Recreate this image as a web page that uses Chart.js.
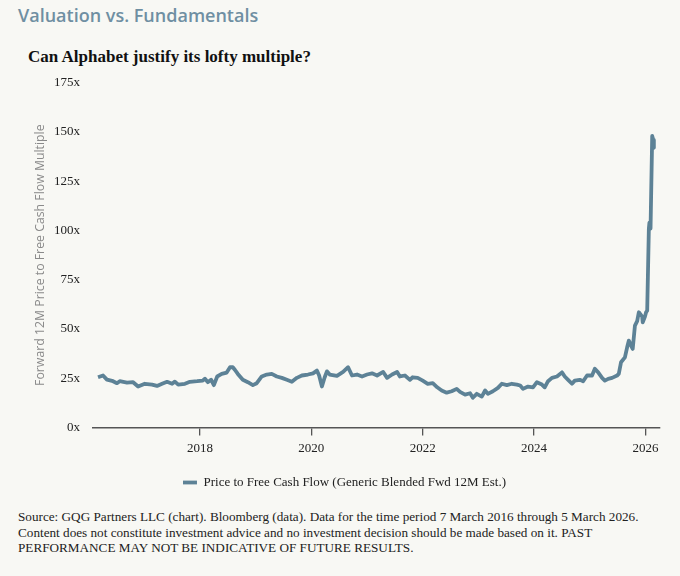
<!DOCTYPE html>
<html>
<head>
<meta charset="utf-8">
<script src="https://cdn.jsdelivr.net/npm/chart.js@4.4.1/dist/chart.umd.min.js"></script>
<style>
  html, body { margin: 0; padding: 0; background: #f8f8f4; }
  body { width: 680px; height: 576px; position: relative; overflow: hidden; }
  #title {
    position: absolute; left: 18px; top: 3px;
    font-family: "Open Sans", sans-serif; font-weight: 600; font-size: 18px;
    color: #6f8fa2; line-height: 24px;
  }
  #subtitle {
    position: absolute; left: 28px; top: 46px;
    font-family: "Liberation Serif", serif; font-weight: bold; font-size: 17px;
    color: #111; line-height: 22px;
  }
  #wrap { position: absolute; left: 0; top: 70px; width: 680px; height: 429px; }
  #footer {
    position: absolute; left: 18px; top: 509px;
    font-family: "Liberation Serif", serif; font-size: 13.2px;
    color: #222; line-height: 15.5px;
  }
</style>
</head>
<body>
<div id="title">Valuation vs. Fundamentals</div>
<div id="subtitle">Can Alphabet justify its lofty multiple?</div>
<div id="wrap"><canvas id="chart"></canvas></div>
<div id="footer">Source: GQG Partners LLC (chart). Bloomberg (data). Data for the time period 7 March 2016 through 5 March 2026.<br>Content does not constitute investment advice and no investment decision should be made based on it. PAST<br>PERFORMANCE MAY NOT BE INDICATIVE OF FUTURE RESULTS.</div>
<script>
// decimal year of each reading
const years = [
  2016.17, 2016.26, 2016.33, 2016.44, 2016.51, 2016.56, 2016.69, 2016.80, 2016.89,
  2017.01, 2017.14, 2017.23, 2017.32, 2017.41, 2017.50, 2017.55, 2017.61, 2017.73, 2017.82, 2017.95,
  2018.05, 2018.09, 2018.14, 2018.20, 2018.25, 2018.31, 2018.39, 2018.48, 2018.54, 2018.59, 2018.63,
  2018.68, 2018.77, 2018.86, 2018.95,
  2019.02, 2019.11, 2019.20, 2019.29, 2019.38, 2019.47, 2019.56, 2019.65, 2019.74, 2019.83, 2019.94,
  2020.03, 2020.10, 2020.14, 2020.19, 2020.24, 2020.28, 2020.33, 2020.46, 2020.57, 2020.66, 2020.73,
  2020.82, 2020.91,
  2021.00, 2021.09, 2021.18, 2021.29, 2021.36, 2021.45, 2021.54, 2021.59, 2021.68, 2021.77, 2021.82, 2021.91,
  2022.00, 2022.09, 2022.18, 2022.26, 2022.34, 2022.43, 2022.52, 2022.61, 2022.67, 2022.76, 2022.85,
  2022.90, 2022.97,
  2023.06, 2023.12, 2023.17, 2023.26, 2023.35, 2023.42, 2023.51, 2023.60, 2023.69, 2023.75, 2023.80,
  2023.89, 2023.98,
  2024.05, 2024.14, 2024.19, 2024.25, 2024.32, 2024.41, 2024.50, 2024.55, 2024.61, 2024.68, 2024.73,
  2024.82, 2024.88, 2024.95,
  2025.04, 2025.09, 2025.15, 2025.22, 2025.27, 2025.33, 2025.40, 2025.49, 2025.52, 2025.56, 2025.63,
  2025.67, 2025.70, 2025.74, 2025.77, 2025.81, 2025.85, 2025.88, 2025.94, 2025.95, 2025.99,
  2026.01, 2026.03, 2026.06, 2026.07, 2026.09, 2026.12, 2026.14, 2026.15
];

const pfcf = [
  25.5, 26.4, 24.3, 23.5, 22.5, 23.5, 22.8, 23.0, 20.8,
  22.2, 21.8, 21.1, 22.2, 23.2, 22.2, 23.3, 21.8, 22.2, 23.2, 23.5,
  23.8, 24.8, 23.0, 24.3, 21.5, 25.9, 27.2, 27.9, 30.6, 30.6, 29.2,
  27.2, 24.2, 23.0, 21.5,
  22.5, 25.9, 26.9, 27.2, 25.9, 25.2, 24.2, 23.2, 25.2, 26.4, 26.9,
  27.5, 28.9, 26.4, 20.8, 25.5, 28.5, 26.9, 26.2, 28.2, 30.6, 26.4,
  26.9, 25.9,
  26.9, 27.5, 26.4, 28.2, 25.2, 26.9, 28.2, 25.9, 26.4, 24.2, 25.5, 25.2,
  23.8, 22.2, 22.5, 20.4, 18.8, 17.7, 18.4, 19.6, 18.1, 16.7, 17.4,
  15.1, 17.1,
  15.7, 18.8, 17.1, 18.4, 20.1, 22.2, 21.5, 22.2, 21.8, 21.3, 19.6,
  20.8, 20.4,
  23.0, 21.8, 20.4, 23.5, 25.2, 25.9, 28.0, 25.9, 24.2, 22.2, 23.8,
  24.2, 23.5, 26.4,
  26.4, 29.8, 28.0, 25.2, 23.8, 24.7, 25.2, 26.4, 27.2, 33.1, 35.6,
  40.7, 44.1, 41.6, 39.9, 51.7, 54.0, 58.5, 56.3, 53.4, 56.3,
  58.5, 59.3, 101, 104, 101, 148, 146, 142
];

const xTicks = [2018, 2020, 2022, 2024, 2026];
const yMin = 0;
const yMax = 175;
const yStep = 25;
const seriesLabel = "Price to Free Cash Flow (Generic Blended Fwd 12M Est.)";
const yTitle = "Forward 12M Price to Free Cash Flow Multiple";

const lineColor = "#5d8296";
const serif = "'Liberation Serif', 'Times New Roman', serif";

const points = years.map(function (y, i) {
  return { x: y, y: pfcf[i] };
});

new Chart(document.getElementById("chart"), {
  type: "line",
  data: {
    datasets: [
      {
        label: seriesLabel,
        data: points,
        borderColor: lineColor,
        backgroundColor: lineColor,
        borderWidth: 3.8,
        borderJoinStyle: "round",
        pointRadius: 0,
        tension: 0
      }
    ]
  },
  options: {
    responsive: true,
    maintainAspectRatio: false,
    animation: false,
    layout: { padding: { left: 29, right: 20, top: 9, bottom: 0 } },
    plugins: {
      tooltip: { enabled: false },
      legend: {
        position: "bottom",
        labels: {
          usePointStyle: true,
          pointStyle: "line",
          pointStyleWidth: 14,
          boxHeight: 13,
          color: "#222",
          padding: 10,
          font: { family: serif, size: 13 }
        }
      }
    },
    scales: {
      x: {
        type: "linear",
        min: 2016.08,
        max: 2026.26,
        afterBuildTicks: function (axis) {
          axis.ticks = xTicks.map(function (v) { return { value: v }; });
        },
        afterFit: function (axis) { axis.height = 38.5; },
        grid: {
          drawOnChartArea: false,
          drawTicks: true,
          tickLength: 8,
          color: "#555",
          lineWidth: 1.3
        },
        border: { display: true, color: "#555", width: 1.5 },
        ticks: {
          padding: 5,
          color: "#222",
          maxRotation: 0,
          font: { family: serif, size: 13 },
          callback: function (v) { return String(v); }
        }
      },
      y: {
        min: yMin,
        max: yMax,
        afterFit: function (axis) { axis.width = 64; },
        grid: { display: false },
        border: { display: false },
        ticks: {
          stepSize: yStep,
          padding: 5,
          color: "#222",
          font: { family: serif, size: 13 },
          callback: function (v) { return v + "x"; }
        },
        title: {
          display: true,
          text: yTitle,
          color: "#8a8a8a",
          font: { family: "'Open Sans', sans-serif", size: 12.3 }
        }
      }
    }
  }
});
</script>
</body>
</html>
